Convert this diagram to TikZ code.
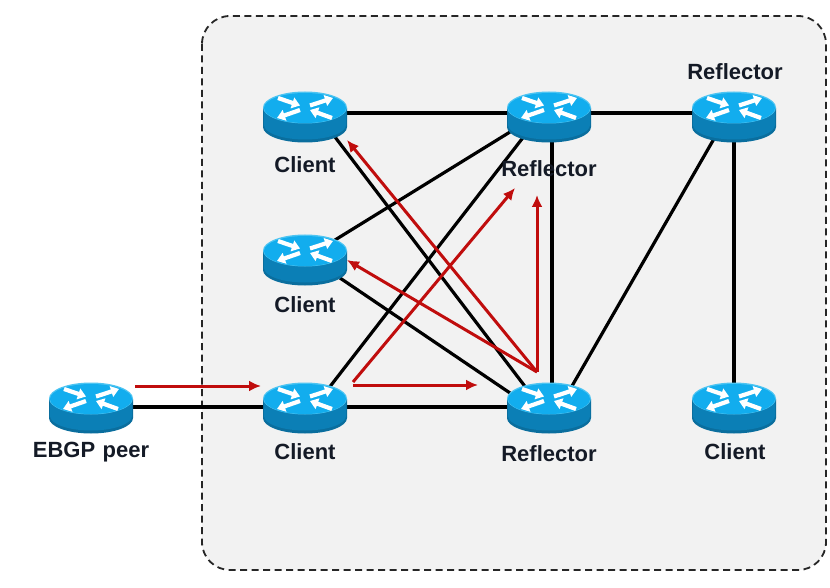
\documentclass[tikz,border=0pt]{standalone}
\usepackage{fontspec}
\setmainfont{Liberation Sans}
\usetikzlibrary{arrows.meta}
\definecolor{panelgray}{HTML}{F2F2F2}
\definecolor{redline}{HTML}{C00D0D}
\definecolor{topblue}{HTML}{12ADEE}
\definecolor{rimblue}{HTML}{4CC4F2}
\definecolor{sideblue}{HTML}{0B7FB6}
\definecolor{sidedark}{HTML}{0A6E9E}
\definecolor{labelink}{HTML}{141A26}
\tikzset{
  x=1pt,y=-1pt,
  panel/.style={draw=black!85,fill=panelgray,line width=1.8pt,rounded corners=28pt,dash pattern=on 7pt off 4.5pt},
  routerslot/.style={minimum width=84pt,minimum height=50pt,inner sep=0pt,outer sep=0pt},
  link/.style={black,line width=3.2pt},
  bgplink/.style={redline,line width=3pt,-{Latex[length=12pt,width=11pt]}},
  lab/.style={font=\fontsize{22}{24}\selectfont\bfseries,text=labelink,inner sep=0pt},
  arm/.style={white,line width=4.2pt,-{Triangle[length=8pt,width=11pt]}},
  router/.pic={
    \fill[sidedark] (-42,-9) -- (-42,10) arc[start angle=180,end angle=0,x radius=42,y radius=15.5] -- (42,-9) -- cycle;
    \fill[sideblue] (-41,-9) -- (-41,8) arc[start angle=180,end angle=0,x radius=41,y radius=14.5] -- (41,-9) -- cycle;
    \fill[rimblue] (0,-9.5) ellipse[x radius=42,y radius=16];
    \fill[topblue] (0,-9) ellipse[x radius=41,y radius=15];
    \draw[arm] (-27,-19) -- (-5,-11.5);
    \draw[arm] (5,-11.5) -- (28,-19);
    \draw[arm] (-5,-7) -- (-28,1);
    \draw[arm] (27,1) -- (5,-7);
  }
}
\begin{document}
\begin{tikzpicture}
\useasboundingbox (0,0) rectangle (830,588);
\fill[white] (0,0) rectangle (830,588);
\draw[panel] (202,16) rectangle (826,570);
% router slots
\node[routerslot] (ebgp) at (91,408) {};
\node[routerslot] (c1) at (305,117) {};
\node[routerslot] (c2) at (305,260) {};
\node[routerslot] (c3) at (305,408) {};
\node[routerslot] (r1) at (549,117) {};
\node[routerslot] (r2) at (734,117) {};
\node[routerslot] (r3) at (549,408) {};
\node[routerslot] (c4) at (734,408) {};
% black links
\draw[link] ([shift={(0,-1)}]ebgp.center) -- ([shift={(0,-1)}]c3.center);
\draw[link] ([shift={(0,-1)}]c3.center) -- ([shift={(0,-1)}]r3.center);
\draw[link] ([shift={(0,-4)}]c1.center) -- ([shift={(0,-4)}]r1.center);
\draw[link] ([shift={(0,-4)}]r1.center) -- ([shift={(0,-4)}]r2.center);
\draw[link] ([shift={(30,20)}]c1.center) -- ([shift={(-19,-15)}]r3.center);
\draw[link] ([shift={(30,-20)}]c2.center) -- ([shift={(-39,15)}]r1.center);
\draw[link] ([shift={(35,18)}]c2.center) -- ([shift={(-39,-15)}]r3.center);
\draw[link] ([shift={(20,-15)}]c3.center) -- ([shift={(-24,18)}]r1.center);
\draw[link] ([shift={(3,15)}]r1.center) -- ([shift={(3,-15)}]r3.center);
\draw[link] ([shift={(-19,20)}]r2.center) -- ([shift={(19,-15)}]r3.center);
\draw[link] (r2.center) -- (c4.center);
% routers
\foreach \n in {ebgp,c1,c2,c3,r1,r2,r3,c4}
  \pic at (\n.center) {router};
% labels
\node[lab] (t1) at (305,165) {Client};
\node[lab] (t2) at (305,305) {Client};
\node[lab] (t3) at (305,452) {Client};
\node[lab] (t4) at (91,452) {EBGP\,\,peer};
\node[lab] (t5) at (549,169) {Reflector};
\node[lab] (t6) at (549,454) {Reflector};
\node[lab] (t7) at (735,72) {Reflector};
\node[lab] (t8) at (735,452) {Client};
% red arrows
\coordinate (apex) at (537,372);
\draw[bgplink] ([shift={(44,-22)}]ebgp.center) -- ([shift={(-44,-22)}]c3.center);
\draw[bgplink] ([shift={(48,-23)}]c3.center) -- ([shift={(-71,-23)}]r3.center);
\draw[bgplink] ([shift={(48,-26)}]c3.center) -- ([shift={(-34,71)}]r1.center);
\draw[bgplink] (apex) -- ([shift={(-12,78)}]r1.center);
\draw[bgplink] (apex) -- ([shift={(42,23)}]c1.center);
\draw[bgplink] (apex) -- ([shift={(42,0)}]c2.center);
\end{tikzpicture}
\end{document}
